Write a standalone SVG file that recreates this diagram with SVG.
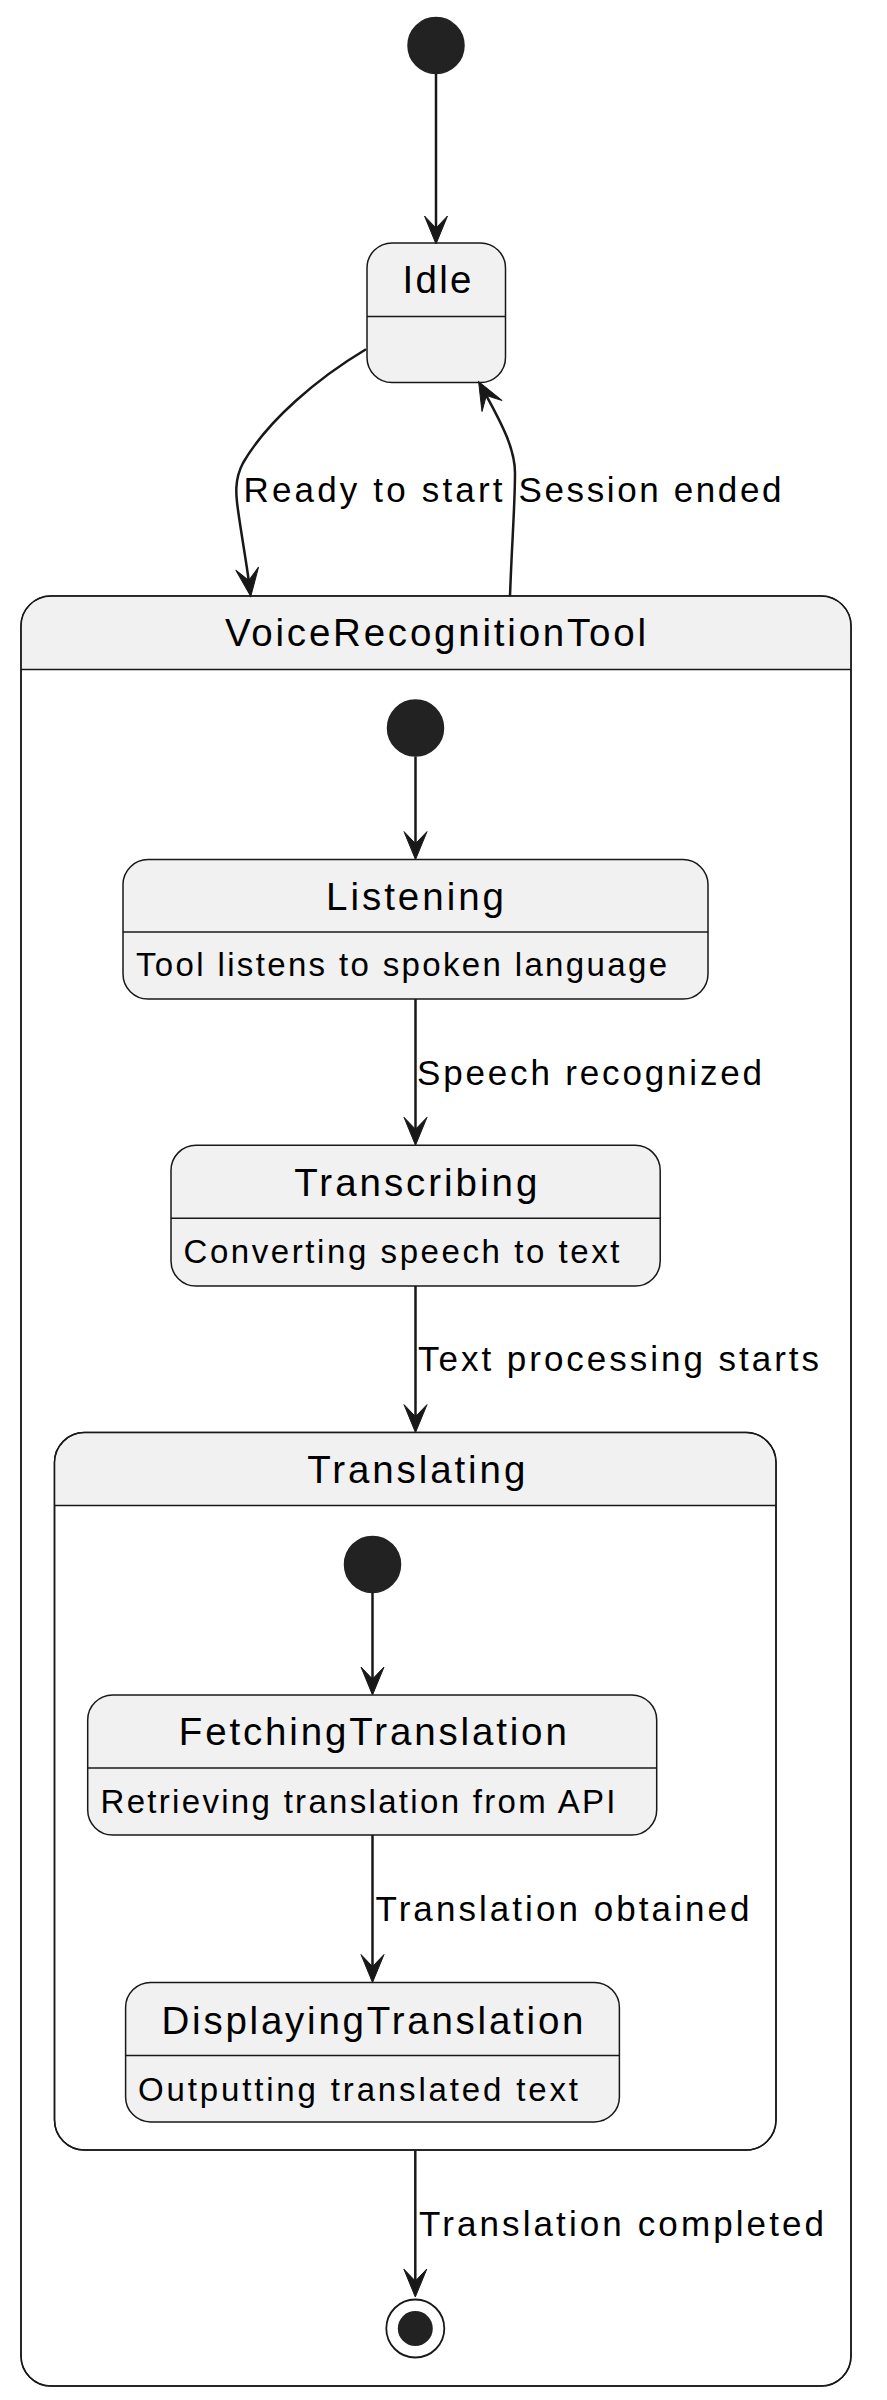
<svg xmlns="http://www.w3.org/2000/svg" width="887" height="2400" viewBox="0 0 887 2400">
<style>
.st{fill:#F1F1F1;stroke:#181818;stroke-width:1.5}
.cont{fill:#FFFFFF;stroke:#181818;stroke-width:1.5}
.hdr{fill:#F1F1F1;stroke:none}
.div{stroke:#181818;stroke-width:1.5}
.init{fill:#222222;stroke:#222222;stroke-width:1.5}
.title{font-family:"Liberation Sans",Arial,sans-serif;font-size:38.5px;fill:#000000;text-anchor:middle}
.desc{font-family:"Liberation Sans",Arial,sans-serif;font-size:33px;fill:#000000}
.lbl{font-family:"Liberation Sans",Arial,sans-serif;font-size:35px;fill:#000000}
.edge{fill:none;stroke:#181818;stroke-width:2.5}
</style>
<defs>
<marker id="ah" markerUnits="userSpaceOnUse" orient="auto" refX="0" refY="0" markerWidth="40" markerHeight="40" overflow="visible">
<path d="M16,0 L-12,-11.5 L0,0 L-12,11.5 Z" fill="#181818" stroke="#181818" stroke-width="1" stroke-linejoin="miter"/>
</marker>
</defs>

<g id="start_top">
<circle class="init" cx="436" cy="45.5" r="28"/>
</g>

<g id="Idle">
<rect class="st" x="367" y="243" width="138.5" height="139.5" rx="25" ry="25"/>
<line class="div" x1="367" y1="316.5" x2="505.5" y2="316.5"/>
<text class="title" x="437" y="292.7" textLength="69" lengthAdjust="spacing">Idle</text>
</g>

<g id="VoiceRecognitionTool">
<rect class="cont" x="21" y="596" width="830" height="1790" rx="30" ry="30"/>
<path class="hdr" d="M21.75,669.5 L21.75,626 A29.25,29.25 0 0 1 51,596.75 L821,596.75 A29.25,29.25 0 0 1 850.25,626 L850.25,669.5 Z"/>
<rect x="21" y="596" width="830" height="1790" rx="30" ry="30" fill="none" stroke="#181818" stroke-width="1.5"/>
<line class="div" x1="21" y1="669.5" x2="851" y2="669.5"/>
<text class="title" x="435.5" y="646.4" textLength="421" lengthAdjust="spacing">VoiceRecognitionTool</text>
</g>

<g id="start_vrt">
<circle class="init" cx="415.5" cy="728" r="28"/>
</g>

<g id="Listening">
<rect class="st" x="123" y="859.6" width="585" height="139.4" rx="25" ry="25"/>
<line class="div" x1="123" y1="932" x2="708" y2="932"/>
<text class="title" x="415" y="909.6" textLength="178" lengthAdjust="spacing">Listening</text>
<text class="desc" x="136" y="976" textLength="531" lengthAdjust="spacing">Tool listens to spoken language</text>
</g>

<g id="Transcribing">
<rect class="st" x="171" y="1145.3" width="489.2" height="140.8" rx="25" ry="25"/>
<line class="div" x1="171" y1="1218.3" x2="660.2" y2="1218.3"/>
<text class="title" x="415.8" y="1196.3" textLength="243" lengthAdjust="spacing">Transcribing</text>
<text class="desc" x="183.5" y="1263.2" textLength="436" lengthAdjust="spacing">Converting speech to text</text>
</g>

<g id="Translating">
<rect class="cont" x="54.5" y="1432.6" width="721.5" height="717.5" rx="30" ry="30"/>
<path class="hdr" d="M55.25,1505.6 L55.25,1462.6 A29.25,29.25 0 0 1 84.5,1433.35 L746,1433.35 A29.25,29.25 0 0 1 775.25,1462.6 L775.25,1505.6 Z"/>
<rect x="54.5" y="1432.6" width="721.5" height="717.5" rx="30" ry="30" fill="none" stroke="#181818" stroke-width="1.5"/>
<line class="div" x1="54.5" y1="1505.6" x2="776" y2="1505.6"/>
<text class="title" x="416.3" y="1482.5" textLength="218" lengthAdjust="spacing">Translating</text>
</g>

<g id="start_translating">
<circle class="init" cx="372.5" cy="1564.4" r="28"/>
</g>

<g id="FetchingTranslation">
<rect class="st" x="87.7" y="1695" width="569" height="140" rx="25" ry="25"/>
<line class="div" x1="87.7" y1="1768" x2="656.7" y2="1768"/>
<text class="title" x="372.8" y="1745" textLength="388" lengthAdjust="spacing">FetchingTranslation</text>
<text class="desc" x="100.5" y="1812.5" textLength="515" lengthAdjust="spacing">Retrieving translation from API</text>
</g>

<g id="DisplayingTranslation">
<rect class="st" x="125.6" y="1982.5" width="493.8" height="139.4" rx="25" ry="25"/>
<line class="div" x1="125.6" y1="2055.6" x2="619.4" y2="2055.6"/>
<text class="title" x="372.5" y="2033.75" textLength="422" lengthAdjust="spacing">DisplayingTranslation</text>
<text class="desc" x="138" y="2101" textLength="440" lengthAdjust="spacing">Outputting translated text</text>
</g>

<g id="end_vrt">
<circle cx="415.3" cy="2328.5" r="29" fill="none" stroke="#181818" stroke-width="1.8"/>
<circle cx="415.3" cy="2328.5" r="17.5" fill="#222222"/>
</g>

<g id="connectors">
<line class="edge" x1="436" y1="74" x2="436" y2="228" marker-end="url(#ah)"/>
<path class="edge" d="M366,349.3 C318,378 268,420 243,463 C234,480 236,496 238,510 C241,532 246,560 248.7,580.5" marker-end="url(#ah)"/>
<text class="lbl" x="243.5" y="501.7" textLength="259" lengthAdjust="spacing">Ready to start</text>
<path class="edge" d="M510,596 C512,540 515,505 515,473 C515,450 503,426 486.3,395.6" marker-end="url(#ah)"/>
<text class="lbl" x="518.5" y="501.7" textLength="263" lengthAdjust="spacing">Session ended</text>
<line class="edge" x1="415.5" y1="756.5" x2="415.5" y2="843.6" marker-end="url(#ah)"/>
<line class="edge" x1="415.5" y1="999" x2="415.5" y2="1129.3" marker-end="url(#ah)"/>
<text class="lbl" x="417" y="1084.6" textLength="345" lengthAdjust="spacing">Speech recognized</text>
<line class="edge" x1="415.5" y1="1286" x2="415.5" y2="1416.6" marker-end="url(#ah)"/>
<text class="lbl" x="418" y="1371.3" textLength="401" lengthAdjust="spacing">Text processing starts</text>
<line class="edge" x1="372.5" y1="1593" x2="372.5" y2="1679" marker-end="url(#ah)"/>
<line class="edge" x1="372.5" y1="1835" x2="372.5" y2="1966.5" marker-end="url(#ah)"/>
<text class="lbl" x="375.5" y="1921" textLength="374" lengthAdjust="spacing">Translation obtained</text>
<line class="edge" x1="415.3" y1="2150.5" x2="415.3" y2="2281" marker-end="url(#ah)"/>
<text class="lbl" x="419" y="2236" textLength="405" lengthAdjust="spacing">Translation completed</text>
</g>
</svg>
